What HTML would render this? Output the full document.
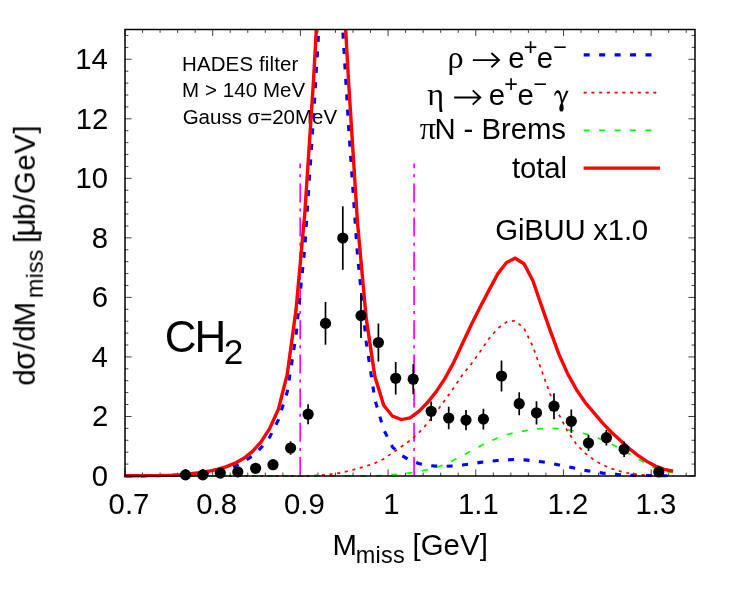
<!DOCTYPE html>
<html><head><meta charset="utf-8"><title>plot</title>
<style>
html,body{margin:0;padding:0;background:#fff;}
svg{display:block;}
text{font-family:"Liberation Sans",sans-serif;fill:#000;}
.sy{font-family:"Liberation Serif",serif;}
</style></head><body>
<svg width="747" height="598" viewBox="0 0 747 598">
<rect width="747" height="598" fill="#fff"/>
<defs><clipPath id="cp"><rect x="124.0" y="29.5" width="572.0" height="450.5"/></clipPath></defs>

<path d="M125.00,476.0v-6.6M125.00,29.5v6.6M142.54,476.0v-3.4M142.54,29.5v3.4M160.08,476.0v-3.4M160.08,29.5v3.4M177.62,476.0v-3.4M177.62,29.5v3.4M195.15,476.0v-3.4M195.15,29.5v3.4M212.69,476.0v-6.6M212.69,29.5v6.6M230.23,476.0v-3.4M230.23,29.5v3.4M247.77,476.0v-3.4M247.77,29.5v3.4M265.31,476.0v-3.4M265.31,29.5v3.4M282.85,476.0v-3.4M282.85,29.5v3.4M300.38,476.0v-6.6M300.38,29.5v6.6M317.92,476.0v-3.4M317.92,29.5v3.4M335.46,476.0v-3.4M335.46,29.5v3.4M353.00,476.0v-3.4M353.00,29.5v3.4M370.54,476.0v-3.4M370.54,29.5v3.4M388.08,476.0v-6.6M388.08,29.5v6.6M405.62,476.0v-3.4M405.62,29.5v3.4M423.15,476.0v-3.4M423.15,29.5v3.4M440.69,476.0v-3.4M440.69,29.5v3.4M458.23,476.0v-3.4M458.23,29.5v3.4M475.77,476.0v-6.6M475.77,29.5v6.6M493.31,476.0v-3.4M493.31,29.5v3.4M510.85,476.0v-3.4M510.85,29.5v3.4M528.38,476.0v-3.4M528.38,29.5v3.4M545.92,476.0v-3.4M545.92,29.5v3.4M563.46,476.0v-6.6M563.46,29.5v6.6M581.00,476.0v-3.4M581.00,29.5v3.4M598.54,476.0v-3.4M598.54,29.5v3.4M616.08,476.0v-3.4M616.08,29.5v3.4M633.62,476.0v-3.4M633.62,29.5v3.4M651.15,476.0v-6.6M651.15,29.5v6.6M668.69,476.0v-3.4M668.69,29.5v3.4M686.23,476.0v-3.4M686.23,29.5v3.4M125.0,476.00h6.6M695.0,476.00h-6.6M125.0,464.09h3.4M695.0,464.09h-3.4M125.0,452.19h3.4M695.0,452.19h-3.4M125.0,440.28h3.4M695.0,440.28h-3.4M125.0,428.37h3.4M695.0,428.37h-3.4M125.0,416.47h6.6M695.0,416.47h-6.6M125.0,404.56h3.4M695.0,404.56h-3.4M125.0,392.65h3.4M695.0,392.65h-3.4M125.0,380.75h3.4M695.0,380.75h-3.4M125.0,368.84h3.4M695.0,368.84h-3.4M125.0,356.93h6.6M695.0,356.93h-6.6M125.0,345.03h3.4M695.0,345.03h-3.4M125.0,333.12h3.4M695.0,333.12h-3.4M125.0,321.21h3.4M695.0,321.21h-3.4M125.0,309.31h3.4M695.0,309.31h-3.4M125.0,297.40h6.6M695.0,297.40h-6.6M125.0,285.49h3.4M695.0,285.49h-3.4M125.0,273.59h3.4M695.0,273.59h-3.4M125.0,261.68h3.4M695.0,261.68h-3.4M125.0,249.77h3.4M695.0,249.77h-3.4M125.0,237.87h6.6M695.0,237.87h-6.6M125.0,225.96h3.4M695.0,225.96h-3.4M125.0,214.05h3.4M695.0,214.05h-3.4M125.0,202.15h3.4M695.0,202.15h-3.4M125.0,190.24h3.4M695.0,190.24h-3.4M125.0,178.33h6.6M695.0,178.33h-6.6M125.0,166.43h3.4M695.0,166.43h-3.4M125.0,154.52h3.4M695.0,154.52h-3.4M125.0,142.61h3.4M695.0,142.61h-3.4M125.0,130.71h3.4M695.0,130.71h-3.4M125.0,118.80h6.6M695.0,118.80h-6.6M125.0,106.89h3.4M695.0,106.89h-3.4M125.0,94.99h3.4M695.0,94.99h-3.4M125.0,83.08h3.4M695.0,83.08h-3.4M125.0,71.17h3.4M695.0,71.17h-3.4M125.0,59.27h6.6M695.0,59.27h-6.6M125.0,47.36h3.4M695.0,47.36h-3.4M125.0,35.45h3.4M695.0,35.45h-3.4" stroke="#000" stroke-width="0.75" fill="none"/>
<g style="filter:grayscale(1)">
<text transform="translate(0 514.2) scale(1 1.015)" x="129.0" y="0" font-size="29.33" text-anchor="middle">0.7</text>
<text transform="translate(0 514.2) scale(1 1.015)" x="216.7" y="0" font-size="29.33" text-anchor="middle">0.8</text>
<text transform="translate(0 514.2) scale(1 1.015)" x="304.4" y="0" font-size="29.33" text-anchor="middle">0.9</text>
<text transform="translate(0 514.2) scale(1 1.015)" x="391.3" y="0" font-size="29.33" text-anchor="middle">1</text>
<text transform="translate(0 514.2) scale(1 1.015)" x="478.4" y="0" font-size="29.33" text-anchor="middle">1.1</text>
<text transform="translate(0 514.2) scale(1 1.015)" x="568.0" y="0" font-size="29.33" text-anchor="middle">1.2</text>
<text transform="translate(0 514.2) scale(1 1.015)" x="655.9" y="0" font-size="29.33" text-anchor="middle">1.3</text>
<text transform="translate(0 485.80) scale(1 1.015)" x="91.73" y="0" font-size="29.33">0</text>
<text transform="translate(0 426.27) scale(1 1.015)" x="92.06" y="0" font-size="29.33">2</text>
<text transform="translate(0 366.73) scale(1 1.015)" x="91.45" y="0" font-size="29.33">4</text>
<text transform="translate(0 307.20) scale(1 1.015)" x="91.88" y="0" font-size="29.33">6</text>
<text transform="translate(0 247.67) scale(1 1.015)" x="91.86" y="0" font-size="29.33">8</text>
<text transform="translate(0 188.13) scale(1 1.015)" x="75.42" y="0" font-size="29.33">10</text>
<text transform="translate(0 128.60) scale(1 1.015)" x="75.75" y="0" font-size="29.33">12</text>
<text transform="translate(0 69.07) scale(1 1.015)" x="75.14" y="0" font-size="29.33">14</text>
<text x="332.49" y="555.10" font-size="29.33">M</text>
<text x="355.74" y="563.00" font-size="23.46" textLength="49.01" lengthAdjust="spacing">miss</text>
<text x="412.41" y="555.10" font-size="29.33" textLength="75.48" lengthAdjust="spacing">[GeV]</text>
<g transform="translate(34.8,384.4) rotate(-90)">
<text x="-1.23" y="0.00" font-size="29.33">d</text>
<text x="14.62" y="0.00" font-size="30.50">σ</text>
<text x="33.90" y="0.00" font-size="29.33">/</text>
<text x="42.77" y="0.00" font-size="29.33">d</text>
<text x="57.89" y="0.00" font-size="29.33">M</text>
<text x="86.34" y="7.50" font-size="23.46" textLength="48.41" lengthAdjust="spacing">miss</text>
<text x="141.51" y="0.00" font-size="29.33">[</text>
<text x="147.87" y="0.00" font-size="31.68">μ</text>
<text x="164.51" y="0.00" font-size="29.33" textLength="94.38" lengthAdjust="spacing">b/GeV]</text>
</g>
<text transform="translate(0 70.50) scale(1 1.015)" x="182.02" y="0" font-size="20.50" textLength="116.32" lengthAdjust="spacing">HADES filter</text>
<text transform="translate(0 97.00) scale(1 1.015)" x="182.02" y="0" font-size="20.50" textLength="123.17" lengthAdjust="spacing">M &gt; 140 MeV</text>
<text x="182.67" y="123.6" font-size="20.5">Gauss σ=20MeV</text>
<text x="164.67" y="351.70" font-size="44.00">C</text>
<text x="194.59" y="351.70" font-size="44.00">H</text>
<text x="223.73" y="363.90" font-size="35.20">2</text>
<text transform="translate(0 240.00) scale(1 1.02)" x="495.32" y="0" font-size="29.33" textLength="152.82" lengthAdjust="spacing">GiBUU x1.0</text>
<text x="447.62" y="67.70" font-size="32.26" class="sy">ρ</text>
<path d="M472.8,60.1H497.8M491.4,53.0L499.0,60.1L491.4,67.2" stroke="#000" stroke-width="1.9" fill="none" stroke-linejoin="miter" stroke-miterlimit="10"/>
<text x="508.15" y="67.70" font-size="29.33">e</text>
<text x="523.65" y="55.40" font-size="23.46">+</text>
<text x="536.75" y="67.70" font-size="29.33">e</text>
<text x="553.14" y="55.40" font-size="23.46">−</text>
<text x="427.30" y="104.60" font-size="32.26" class="sy">η</text>
<path d="M454.1,97.5H479.1M472.7,90.4L480.3,97.5L472.7,104.6" stroke="#000" stroke-width="1.9" fill="none" stroke-linejoin="miter" stroke-miterlimit="10"/>
<text x="488.65" y="104.60" font-size="29.33">e</text>
<text x="504.35" y="92.30" font-size="23.46">+</text>
<text x="517.45" y="104.60" font-size="29.33">e</text>
<text x="533.44" y="92.30" font-size="23.46">−</text>
<g fill="#000" stroke="none"><path d="M554.2,95.6C554.5,92.2 556.2,90.2 558.2,90.3C560.3,90.5 561.3,93.2 562.2,100.2L566.2,90.7H568.6L562.7,103.6C563.6,105.6 564.0,108.2 563.4,110.0C562.7,112.0 560.2,112.0 559.5,110.0C558.9,108.0 559.8,105.2 561.0,103.0C560.4,97.6 559.4,93.4 557.8,93.0C556.5,92.7 555.6,93.9 555.2,95.7Z"/></g>
<text x="419.86" y="138.80" font-size="32.26" class="sy">π</text>
<text x="434.39" y="138.80" font-size="29.33" textLength="131.57" lengthAdjust="spacing">N - Brems</text>
<text x="512.06" y="177.60" font-size="29.33" textLength="55.01" lengthAdjust="spacing">total</text>
</g>
<path d="M300.2,476.0V163.4" stroke="#f0f" stroke-width="1.7" stroke-dasharray="19 6.1 3 6.1" fill="none"/>
<path d="M414.1,476.0V163.4" stroke="#f0f" stroke-width="1.7" stroke-dasharray="19 6.1 3 6.1" fill="none"/>
<path d="M583.7,54.85H652.3" stroke="#00f" stroke-width="3.1" stroke-dasharray="6.0 9.45" fill="none"/>
<path d="M583.6,92.65H657" stroke="#f00" stroke-width="1.7" stroke-dasharray="3.1 4.64" fill="none"/>
<path d="M583.7,130.45H652.3" stroke="#0f0" stroke-width="1.7" stroke-dasharray="6.0 9.45" fill="none"/>
<path d="M583.6,168.1H660" stroke="#f00" stroke-width="3.4" fill="none"/>
<g clip-path="url(#cp)" fill="none" stroke-linejoin="miter">
<path d="M120.6,476.0 L129.4,476.0 L138.2,475.9 L146.9,475.8 L155.7,475.7 L164.5,475.5 L173.2,475.3 L182.0,475.1 L190.8,474.7 L199.5,474.0 L208.3,473.0 L217.1,471.4 L225.8,468.9 L234.6,466.1 L243.4,461.9 L252.2,456.0 L260.9,448.0 L269.7,437.2 L278.5,419.6 L287.2,392.1 L296.0,335.6 L304.8,247.7 L313.5,117.8 L322.3,-28.7 L331.1,-200.0" stroke="#00f" stroke-width="3.1" stroke-dasharray="6.0 9.45" stroke-dashoffset="10.29"/>
<path d="M331.1,-200.0 L339.8,-19.1 L348.6,127.1 L357.4,254.4 L366.2,341.9 L374.9,399.6 L383.7,429.7 L392.5,447.1 L401.2,455.1 L410.0,460.3 L418.8,463.5 L427.5,465.5 L436.3,466.1 L445.1,466.3 L453.8,466.0 L462.6,465.0 L471.4,463.8 L480.2,462.4 L488.9,461.3 L497.7,460.5 L506.5,459.9 L515.2,459.5 L524.0,459.9 L532.8,460.7 L541.5,461.8 L550.3,463.2 L559.1,464.9 L567.8,466.7 L576.6,468.6 L585.4,470.4 L594.2,471.9 L602.9,473.1 L611.7,474.0 L620.5,474.7 L629.2,475.2 L638.0,475.4 L646.8,475.5 L655.5,475.6 L664.3,475.7 L673.1,476.0" stroke="#00f" stroke-width="3.1" stroke-dasharray="6.0 9.45" stroke-dashoffset="14.29"/>
<path d="M120.6,476.0 L129.4,476.0 L138.2,476.0 L146.9,476.0 L155.7,476.0 L164.5,476.0 L173.2,476.0 L182.0,476.0 L190.8,476.0 L199.5,476.0 L208.3,476.0 L217.1,476.0 L225.8,476.0 L234.6,476.0 L243.4,476.0 L252.2,476.0 L260.9,476.0 L269.7,476.0 L278.5,476.0 L287.2,476.0 L296.0,476.0 L304.8,475.9 L313.5,475.6 L322.3,475.2 L331.1,474.2 L339.8,472.9 L348.6,471.0 L357.4,468.6 L366.2,466.1 L374.9,463.1 L383.7,458.9 L392.5,452.9 L401.2,446.8 L410.0,440.5 L418.8,432.8 L427.5,423.3 L436.3,411.7 L445.1,400.0 L453.8,387.7 L462.6,374.7 L471.4,363.8 L480.2,351.6 L488.9,338.7 L497.7,328.5 L506.5,322.0 L515.2,320.7 L524.0,328.3 L532.8,346.4 L541.5,370.3 L550.3,394.6 L559.1,414.8 L567.8,431.8 L576.6,444.5 L585.4,453.3 L594.2,460.1 L602.9,465.0 L611.7,468.6 L620.5,471.4 L629.2,473.4 L638.0,474.6 L646.8,475.3 L655.5,475.7 L664.3,475.9 L673.1,476.0" stroke="#f00" stroke-width="1.7" stroke-dasharray="3.1 4.64"/>
<path d="M120.6,476.0 L129.4,476.0 L138.2,476.0 L146.9,476.0 L155.7,476.0 L164.5,476.0 L173.2,476.0 L182.0,476.0 L190.8,476.0 L199.5,476.0 L208.3,476.0 L217.1,476.0 L225.8,476.0 L234.6,476.0 L243.4,476.0 L252.2,476.0 L260.9,476.0 L269.7,476.0 L278.5,476.0 L287.2,476.0 L296.0,476.0 L304.8,476.0 L313.5,476.0 L322.3,476.0 L331.1,476.0 L339.8,476.0 L348.6,476.0 L357.4,476.0 L366.2,476.0 L374.9,475.9 L383.7,475.4 L392.5,474.7 L401.2,473.9 L410.0,472.8 L418.8,471.4 L427.5,469.6 L436.3,467.4 L445.1,464.3 L453.8,460.1 L462.6,455.5 L471.4,450.7 L480.2,446.1 L488.9,441.7 L497.7,438.0 L506.5,434.8 L515.2,432.5 L524.0,430.9 L532.8,429.5 L541.5,428.7 L550.3,428.4 L559.1,428.6 L567.8,429.9 L576.6,431.5 L585.4,433.9 L594.2,436.6 L602.9,440.0 L611.7,444.1 L620.5,448.9 L629.2,453.8 L638.0,458.8 L646.8,464.0 L655.5,468.5 L664.3,471.3 L673.1,472.6" stroke="#0f0" stroke-width="1.7" stroke-dasharray="6.0 9.45" stroke-dashoffset="7.44"/>
<path d="M120.6,475.8 L129.4,475.7 L138.2,475.7 L146.9,475.6 L155.7,475.6 L164.5,475.4 L173.2,475.1 L182.0,474.6 L190.8,473.8 L199.5,472.7 L208.3,471.3 L217.1,469.4 L225.8,466.9 L234.6,463.4 L243.4,458.5 L252.2,451.7 L260.9,442.1 L269.7,428.5 L278.5,409.0 L287.2,374.5 L296.0,310.1 L304.8,213.3 L313.5,80.5 L322.3,-78.2 L331.1,-200.0 L339.8,-75.0 L348.6,81.8 L357.4,221.3 L366.2,318.3 L374.9,376.5 L383.7,405.2 L392.5,416.2 L401.2,419.6 L410.0,417.9 L418.8,411.4 L427.5,402.5 L436.3,391.6 L445.1,378.1 L453.8,362.3 L462.6,343.3 L471.4,324.5 L480.2,307.1 L488.9,290.4 L497.7,274.0 L506.5,262.5 L515.2,258.3 L524.0,263.7 L532.8,280.5 L541.5,305.7 L550.3,330.9 L559.1,354.6 L567.8,374.1 L576.6,389.9 L585.4,402.8 L594.2,413.2 L602.9,423.4 L611.7,432.5 L620.5,440.5 L629.2,448.5 L638.0,455.5 L646.8,461.4 L655.5,466.1 L664.3,469.3 L673.1,471.2" stroke="#f00" stroke-width="3.4"/>
</g>
<path d="M185.5,468.9V476.0M202.8,468.9V476.0M290.6,441.3V454.7M308.1,404.2V424.2M325.5,302.0V344.8M342.8,206.2V269.8M361.0,293.1V338.1M378.4,323.6V361.4M395.7,362.0V394.6M413.2,364.2V394.2M431.2,401.5V421.1M448.7,406.8V429.2M466.0,409.9V430.3M483.4,408.7V429.5M501.5,360.6V391.4M519.2,392.2V415.2M536.5,401.2V424.4M554.0,393.2V419.2M571.3,409.6V432.8M588.5,435.0V451.0M606.4,429.9V445.5M624.1,441.5V457.1M658.8,466.0V476.0" stroke="#000" stroke-width="1.7" fill="none"/>
<g fill="#000"><circle cx="185.5" cy="474.9" r="5.6"/><circle cx="202.8" cy="474.9" r="5.6"/><circle cx="220.3" cy="473.1" r="5.6"/><circle cx="237.8" cy="471.9" r="5.6"/><circle cx="255.6" cy="468.3" r="5.6"/><circle cx="273.0" cy="464.7" r="5.6"/><circle cx="290.6" cy="448.0" r="5.6"/><circle cx="308.1" cy="414.2" r="5.6"/><circle cx="325.5" cy="323.4" r="5.6"/><circle cx="342.8" cy="238.0" r="5.6"/><circle cx="361.0" cy="315.6" r="5.6"/><circle cx="378.4" cy="342.5" r="5.6"/><circle cx="395.7" cy="378.3" r="5.6"/><circle cx="413.2" cy="379.2" r="5.6"/><circle cx="431.2" cy="411.3" r="5.6"/><circle cx="448.7" cy="418.0" r="5.6"/><circle cx="466.0" cy="420.1" r="5.6"/><circle cx="483.4" cy="419.1" r="5.6"/><circle cx="501.5" cy="376.0" r="5.6"/><circle cx="519.2" cy="403.7" r="5.6"/><circle cx="536.5" cy="412.8" r="5.6"/><circle cx="554.0" cy="406.2" r="5.6"/><circle cx="571.3" cy="421.2" r="5.6"/><circle cx="588.5" cy="443.0" r="5.6"/><circle cx="606.4" cy="437.7" r="5.6"/><circle cx="624.1" cy="449.3" r="5.6"/><circle cx="658.8" cy="472.0" r="5.6"/></g>
<rect x="125.0" y="29.5" width="570.0" height="446.5" fill="none" stroke="#000" stroke-width="1.5"/>
</svg></body></html>
